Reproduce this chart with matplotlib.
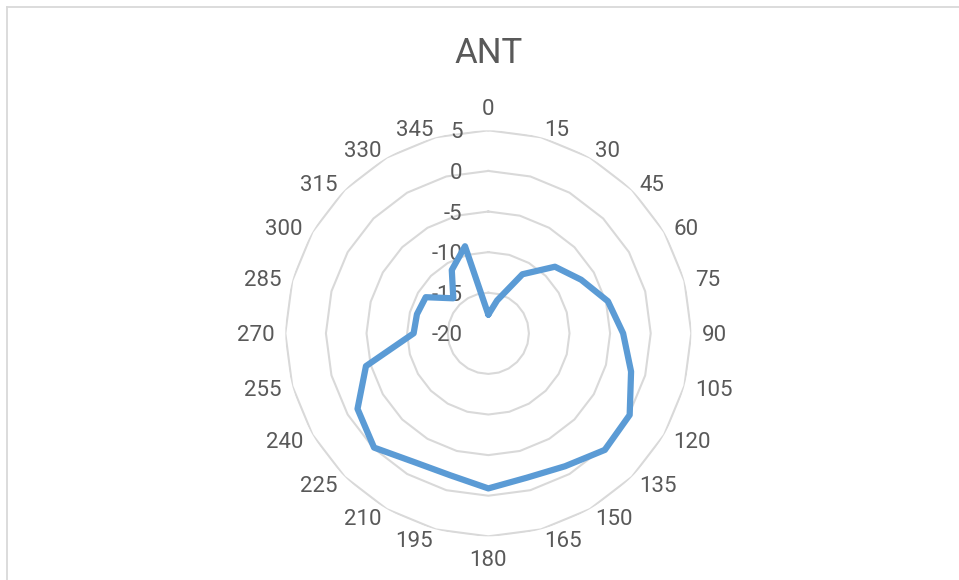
import numpy as np
import matplotlib.pyplot as plt
from matplotlib.lines import Line2D

angles = list(range(0, 360, 15))
gain = [-17.7, -15.8, -11.6, -8.4, -6.8, -4.75, -3.4, -1.8, 0.1, 0.3, -1.1, -1.6,
        -0.9, -1.9, -1.7, -0.1, -1.4, -4.4, -10.8, -10.9, -11.1, -13.9, -11.0, -8.9]
rings = [-20, -15, -10, -5, 0, 5]

font = ['Roboto', 'DejaVu Sans']
grey = '#595959'
px = 0.72  # points per pixel at dpi 100

fig = plt.figure(figsize=(9.59, 5.8), dpi=100)
ax = fig.add_axes([0.5092 - 0.2117, 0.4253 - 0.35, 0.4234, 0.70], projection='polar')
ax.set_theta_zero_location('N')
ax.set_theta_direction(-1)
ax.set_ylim(-20, 5)
ax.grid(False)
ax.spines['polar'].set_visible(False)
ax.set_xticks([])
ax.set_yticks([])
ax.patch.set_alpha(0)

theta = np.deg2rad(angles + [angles[0]])

# web gridlines (polygons)
for r in rings[1:]:
    ax.plot(theta, [r] * len(theta), color='#D9D9D9', lw=1.5, zorder=1)

ax.plot(theta, gain + [gain[0]], color='#5B9BD5', lw=4.5, solid_joinstyle='round',
        solid_capstyle='round', zorder=3)

# category labels, placed outside the outer ring like Excel does
for a in angles:
    s, c = np.sin(np.deg2rad(a)), np.cos(np.deg2rad(a))
    if a == 0:
        ha, dx, dy = 'center', 0, 15.3
    elif a == 180:
        ha, dx, dy = 'center', 0, -29.7
    else:
        ha = 'left' if s > 0 else 'right'
        dx, dy = 11 * s, c * 9.5 - 8
    ax.annotate(str(a), xy=(np.deg2rad(a), rings[-1]), xytext=(dx * px, dy * px),
                textcoords='offset points', ha=ha, va='baseline', fontsize=16,
                color=grey, family=font, annotation_clip=False)

for r in rings:
    ax.annotate(str(r), xy=(0, r), xytext=(-26 * px, -8 * px), textcoords='offset points',
                ha='right', va='baseline', fontsize=16, color=grey, family=font, zorder=2)

fig.text(0.5092, 1 - 63 / 580, 'ANT', ha='center', va='baseline', fontsize=25,
         color=grey, family=font)

# chart border
bc = '#D9D9D9'
fig.add_artist(Line2D([7 / 959, 7 / 959], [0, 1 - 7 / 580], color=bc, lw=1.3))
fig.add_artist(Line2D([7 / 959, 1], [1 - 7 / 580, 1 - 7 / 580], color=bc, lw=1.3))

fig.savefig('out.png', dpi=100)
